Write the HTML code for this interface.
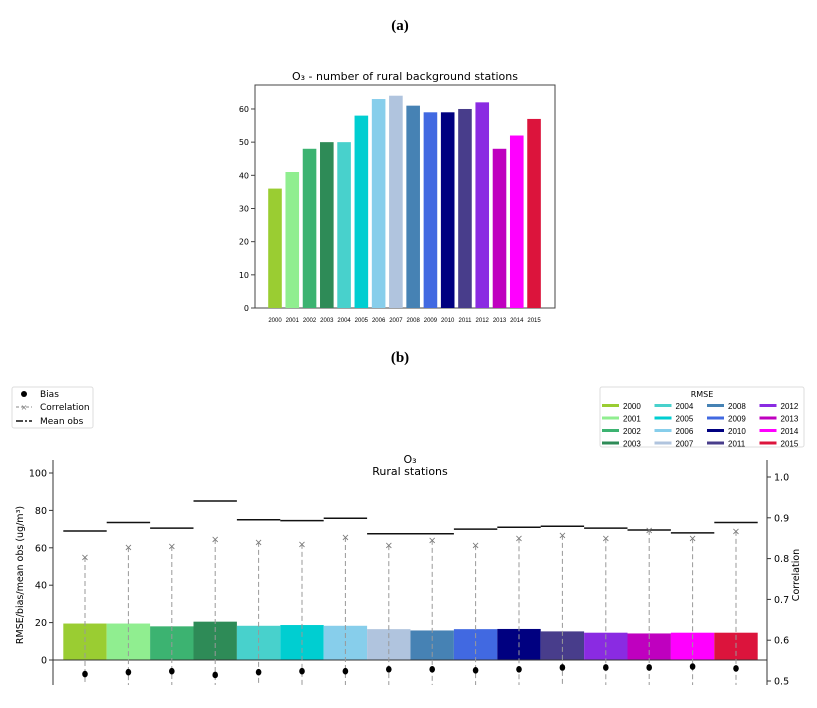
<!DOCTYPE html>
<html><head><meta charset="utf-8"><style>
body{margin:0;background:#fff;width:817px;height:703px;overflow:hidden}
svg{font-family:"DejaVu Sans","Liberation Sans",sans-serif}
</style></head><body>
<svg id="s" width="817" height="703" viewBox="0 0 817 703">
<text x="400" y="30" text-anchor="middle" font-family="Liberation Serif" font-weight="bold" font-size="15">(a)</text>
<text x="400" y="362" text-anchor="middle" font-family="Liberation Serif" font-weight="bold" font-size="15">(b)</text>
<g id="top"></g>
<g id="bot"></g>
</svg>
<script>
const years=["2000","2001","2002","2003","2004","2005","2006","2007","2008","2009","2010","2011","2012","2013","2014","2015"];
const colors=["#9acd32","#90ee90","#3cb371","#2e8b57","#48d1cc","#00ced1","#87ceeb","#b0c4de","#4682b4","#4169e1","#000080","#483d8b","#8a2be2","#bf00bf","#ff00ff","#dc143c"];
const stations=[36,41,48,50,50,58,63,64,61,59,59,60,62,48,52,57];
const topTicks=[0,10,20,30,40,50,60];
const rmse=[19.5,19.5,18,20.5,18.3,18.7,18.3,16.5,15.8,16.5,16.6,15.3,14.6,14.2,14.6,14.6];
const meanObs=[69,73.5,70.5,85,75,74.5,75.8,67.5,67.5,70,71,71.5,70.5,69.5,68,73.5];
const corr=[0.804,0.828,0.831,0.848,0.841,0.836,0.853,0.833,0.846,0.833,0.85,0.858,0.85,0.87,0.85,0.868];
const bias=[-7.5,-6.5,-6,-8,-6.5,-6,-6,-5,-5,-5.5,-5,-4,-4,-4,-3.5,-4.5];
const leftTicks=[0,20,40,60,80,100];
const rightTicks=[0.5,0.6,0.7,0.8,0.9,1.0];
const NS="http://www.w3.org/2000/svg";
function mk(p,t,a,txt){const e=document.createElementNS(NS,t);for(const k in a)e.setAttribute(k,a[k]);if(txt!=null)e.textContent=txt;p.appendChild(e);return e;}
const T=document.getElementById('top');
const tx=i=>275+i*17.27, ty=v=>308-v*3.317;
mk(T,'rect',{x:255,y:85,width:300,height:223,fill:'none',stroke:'#444','stroke-width':1});
mk(T,'text',{x:405,y:80,'text-anchor':'middle','font-size':11},'O₃ - number of rural background stations');
topTicks.forEach(v=>{const y=ty(v);mk(T,'line',{x1:251,x2:255,y1:y,y2:y,stroke:'#444'});
const t=mk(T,'text',{x:249,y:y+3,'text-anchor':'end','font-size':8},v);});
stations.forEach((v,i)=>{const r=mk(T,'rect',{x:tx(i)-6.8,y:ty(v),width:13.6,height:v*3.317,fill:colors[i]});

const t=mk(T,'text',{x:tx(i),y:322,'text-anchor':'middle','font-size':6,'font-family':'Liberation Sans'},years[i]);});
const B=document.getElementById('bot');
const bx=i=>85+i*43.4, by=v=>660-v*1.87, cy=c=>681-(c-0.5)*408;
mk(B,'line',{x1:53,x2:53,y1:460,y2:685,stroke:'#333'});
mk(B,'line',{x1:767,x2:767,y1:460,y2:685,stroke:'#333'});
leftTicks.forEach(v=>{const y=by(v);mk(B,'line',{x1:49,x2:53,y1:y,y2:y,stroke:'#333'});
const t=mk(B,'text',{x:47,y:y+3.5,'text-anchor':'end','font-size':9.5},v);});
rightTicks.forEach(v=>{const y=cy(v);mk(B,'line',{x1:767,x2:771,y1:y,y2:y,stroke:'#333'});
const t=mk(B,'text',{x:774,y:y+3.5,'font-size':9.5},v.toFixed(1));});
mk(B,'text',{x:0,y:0,transform:'translate(23,575) rotate(-90)','text-anchor':'middle','font-size':9.5},'RMSE/bias/mean obs (ug/m³)');
mk(B,'text',{x:0,y:0,transform:'translate(799,575) rotate(-90)','text-anchor':'middle','font-size':9.5},'Correlation');
mk(B,'text',{x:410,y:463,'text-anchor':'middle','font-size':11},'O₃');
mk(B,'text',{x:410,y:475,'text-anchor':'middle','font-size':11},'Rural stations');
rmse.forEach((v,i)=>{const r=mk(B,'rect',{x:bx(i)-21.7,y:by(v),width:43.4,height:v*1.87,fill:colors[i]});
});
mk(B,'line',{x1:53,x2:767,y1:660,y2:660,stroke:'#333'});
years.forEach((yr,i)=>{const x=bx(i);
const d=mk(B,'line',{x1:x,x2:x,y1:cy(corr[i]),y2:685,stroke:'#999','stroke-dasharray':'5,3'});
const m=mk(B,'line',{x1:x-21.7,x2:x+21.7,y1:by(meanObs[i]),y2:by(meanObs[i]),stroke:'#111','stroke-width':1.5});
const c=mk(B,'text',{x:x,y:cy(corr[i])+3.5,'text-anchor':'middle','font-size':10,fill:'#777'},'×');
const b=mk(B,'ellipse',{cx:x,cy:by(bias[i]),rx:2.8,ry:3.3,fill:'#000'});});
const L=mk(B,'g',{});
mk(L,'rect',{x:12,y:387,width:81,height:41,fill:'#fff',stroke:'#ddd',rx:2});
mk(L,'circle',{cx:24,cy:394,r:3,fill:'#000'});mk(L,'text',{x:40,y:397,'font-size':9},'Bias');
mk(L,'line',{x1:16,x2:32,y1:407,y2:407,stroke:'#888','stroke-dasharray':'3,2'});mk(L,'text',{x:24,y:410,'text-anchor':'middle','font-size':8,fill:'#777'},'×');mk(L,'text',{x:40,y:410,'font-size':9},'Correlation');
mk(L,'line',{x1:16,x2:32,y1:421,y2:421,stroke:'#111','stroke-width':1.5,'stroke-dasharray':'7,2,2,2'});mk(L,'text',{x:40,y:424,'font-size':9},'Mean obs');
const R=mk(B,'g',{});
mk(R,'rect',{x:600,y:387,width:204,height:60,fill:'#fff',stroke:'#ddd',rx:2});
mk(R,'text',{x:702,y:397,'text-anchor':'middle','font-size':8},'RMSE');
years.forEach((yr,i)=>{const col=Math.floor(i/4),row=i%4;const x=602+col*52.5,y=406+row*12.5;
const e=mk(R,'rect',{x:x,y:y-2,width:17,height:3,fill:colors[i]});
mk(R,'text',{x:x+21,y:y+3,'font-size':8,'font-family':'Liberation Sans'},yr);});
</script>
</body></html>
